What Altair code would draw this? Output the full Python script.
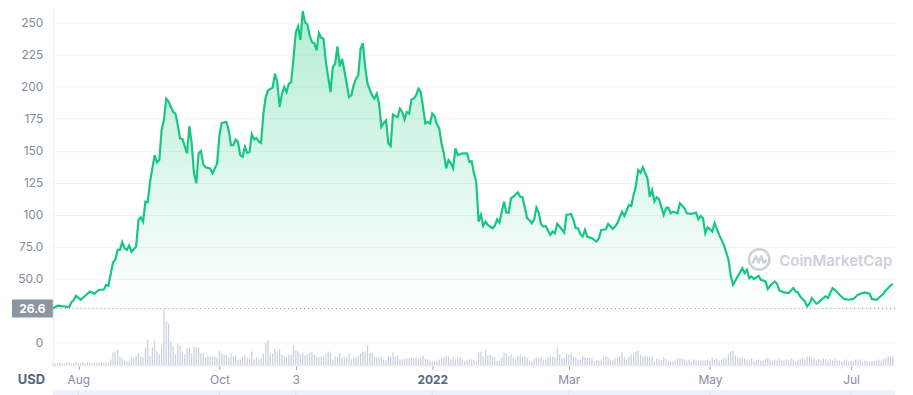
import altair as alt
import pandas as pd

# ---------------- data ----------------
start_date = "2021-07-21"
start_price = 26.6

# price points: day offset from start_date, price in USD
price_days = [
    0, 2, 7, 8, 9, 10, 12, 14, 16, 18, 20, 22, 23, 24, 26, 27, 28, 29, 30, 31,
    32, 33, 34, 36, 37, 38, 39, 40, 41, 42, 44, 45, 46, 47, 48, 49, 50, 52, 53, 54,
    55, 56, 58, 59, 60, 61, 62, 63, 64, 65, 66, 68, 69, 71, 72, 73, 75, 76, 77, 78,
    79, 80, 81, 82, 83, 84, 85, 86, 87, 88, 89, 90, 91, 92, 93, 95, 96, 97, 98, 99,
    100, 101, 102, 103, 104, 105, 106, 107, 108, 109, 110, 111, 112, 113, 114, 115, 116, 117, 118, 120,
    121, 122, 123, 124, 125, 126, 127, 128, 129, 130, 131, 132, 133, 134, 135, 136, 137, 138, 139, 140,
    141, 142, 143, 144, 145, 146, 147, 148, 149, 150, 151, 152, 153, 154, 155, 156, 157, 158, 159, 160,
    161, 162, 163, 164, 165, 166, 167, 168, 169, 170, 171, 172, 173, 174, 175, 177, 179, 180, 181, 182,
    183, 184, 185, 186, 187, 188, 190, 191, 192, 193, 195, 196, 197, 198, 199, 201, 202, 203, 205, 206,
    207, 208, 209, 210, 211, 212, 213, 215, 216, 217, 218, 219, 221, 222, 224, 225, 226, 227, 228, 229,
    230, 231, 233, 235, 236, 237, 239, 240, 242, 243, 244, 246, 247, 249, 250, 251, 252, 253, 254, 255,
    257, 258, 259, 260, 261, 262, 264, 265, 266, 267, 268, 270, 271, 273, 274, 276, 278, 279, 280, 281,
    282, 283, 285, 286, 288, 289, 290, 292, 293, 294, 296, 298, 299, 300, 301, 302, 303, 305, 306, 308,
    309, 310, 312, 313, 314, 316, 318, 320, 321, 322, 323, 325, 326, 327, 328, 330, 331, 333, 334, 335,
    337, 338, 340, 342, 344, 346, 348, 349, 351, 353, 354, 356, 358, 359, 360, 362, 363,
]
price_values = [
    26.6, 28.8, 27.8, 31.4, 33.0, 36.6, 33.5, 36.6, 39.8, 38.2, 41.3, 41.3, 45.0, 44.4, 62.6, 64.7, 72.5, 72.5, 78.5, 73.8,
    72.5, 75.9, 70.9, 75.1, 95.9, 98.0, 94.6, 110.2, 109.7, 125.7, 146.6, 140.9, 142.7, 166.0, 173.8, 190.7, 188.5, 180.3, 179.0, 169.9,
    159.6, 159.0, 147.9, 169.2, 155.7, 132.3, 124.5, 148.3, 149.9, 139.5, 137.0, 136.2, 132.3, 140.1, 162.1, 171.7, 172.5, 166.0, 154.3, 154.3,
    158.8, 156.9, 146.6, 145.2, 153.0, 148.3, 149.1, 162.9, 158.8, 160.0, 157.0, 156.1, 179.0, 192.0, 197.2, 199.3, 210.2, 203.7, 184.2, 194.6,
    199.8, 195.9, 202.4, 203.7, 221.9, 242.7, 247.1, 236.7, 259.1, 250.5, 248.7, 240.1, 234.9, 234.1, 228.4, 241.9, 238.3, 237.5, 219.3, 195.9,
    215.4, 218.0, 231.5, 215.9, 221.9, 212.8, 202.4, 192.0, 193.3, 201.1, 206.3, 208.9, 229.7, 234.1, 215.4, 202.4, 197.7, 193.3, 190.7, 194.6,
    186.8, 168.6, 171.7, 173.8, 155.7, 153.8, 178.3, 177.2, 176.4, 182.9, 180.3, 174.4, 180.3, 179.0, 190.0, 190.7, 193.3, 198.5, 195.9, 184.2,
    171.3, 172.5, 171.3, 179.0, 177.0, 170.7, 167.4, 155.7, 147.9, 136.2, 142.7, 140.1, 136.2, 151.8, 146.6, 147.9, 147.9, 141.3, 141.9, 132.3,
    125.7, 94.6, 99.8, 91.2, 94.6, 92.0, 89.4, 91.2, 96.4, 93.8, 110.2, 101.6, 101.6, 112.8, 114.0, 117.5, 114.0, 113.6, 97.2, 95.9,
    93.3, 95.9, 105.5, 101.6, 92.5, 90.7, 91.2, 84.2, 86.8, 85.5, 92.8, 90.7, 86.0, 99.8, 100.6, 95.9, 89.4, 89.4, 84.7, 82.9,
    88.1, 82.9, 81.6, 79.0, 81.6, 88.1, 88.6, 92.8, 88.9, 90.7, 93.3, 102.4, 99.0, 107.6, 106.8, 115.4, 122.4, 134.9, 132.8, 137.0,
    128.4, 114.0, 119.3, 110.2, 113.6, 112.0, 99.8, 105.0, 105.5, 101.1, 102.4, 101.1, 108.9, 105.0, 101.1, 100.6, 101.6, 96.4, 99.0, 97.2,
    85.5, 90.2, 86.8, 93.3, 84.2, 80.3, 76.4, 65.0, 52.0, 45.2, 51.7, 58.2, 54.3, 56.9, 50.4, 51.7, 49.6, 52.2, 49.1, 47.8,
    41.9, 44.4, 47.8, 46.0, 40.8, 39.2, 38.7, 42.6, 40.0, 39.2, 36.1, 32.2, 28.3, 30.4, 34.8, 30.4, 31.4, 34.8, 36.1, 34.8,
    42.6, 41.3, 37.4, 34.1, 33.5, 34.1, 37.4, 38.2, 39.2, 38.2, 34.1, 33.5, 36.6, 38.2, 40.8, 44.4, 46.0,
]

# daily trading volume (relative units), one value per day from start_date
volume_values = [
    2, 2, 2, 3, 2, 2, 3, 3, 2, 2, 3, 2, 2, 3, 2, 3, 3, 2, 2, 3,
    3, 3, 2, 3, 3, 6, 13, 14, 16, 9, 7, 5, 4, 5, 8, 8, 10, 12, 9, 8,
    18, 26, 10, 18, 25, 14, 11, 20, 56, 44, 42, 24, 19, 11, 22, 20, 14, 11, 17, 18,
    12, 19, 18, 18, 12, 13, 8, 10, 9, 9, 9, 8, 15, 12, 11, 11, 8, 12, 9, 10,
    6, 6, 8, 10, 8, 7, 14, 6, 8, 6, 7, 12, 23, 25, 12, 12, 17, 14, 16, 11,
    9, 8, 11, 11, 20, 15, 14, 11, 13, 10, 11, 13, 14, 11, 9, 8, 9, 10, 12, 14,
    13, 6, 9, 8, 12, 8, 8, 8, 12, 6, 8, 8, 10, 12, 14, 14, 20, 12, 13, 9,
    8, 8, 8, 6, 5, 9, 9, 13, 9, 10, 6, 6, 7, 7, 7, 8, 7, 8, 7, 8,
    10, 7, 6, 5, 4, 4, 5, 6, 8, 8, 10, 9, 6, 8, 6, 8, 8, 6, 4, 5,
    6, 6, 6, 4, 13, 14, 9, 16, 10, 11, 9, 8, 5, 5, 8, 13, 12, 9, 11, 8,
    6, 9, 11, 8, 9, 8, 5, 4, 7, 8, 8, 8, 6, 6, 8, 10, 9, 8, 18, 11,
    7, 7, 12, 11, 13, 8, 8, 6, 6, 9, 8, 8, 8, 7, 4, 5, 5, 6, 9, 9,
    8, 6, 5, 7, 8, 9, 13, 8, 6, 9, 11, 12, 14, 15, 11, 9, 10, 9, 8, 9,
    4, 7, 6, 5, 8, 7, 5, 4, 4, 5, 7, 7, 7, 6, 5, 6, 4, 6, 5, 5,
    5, 5, 5, 6, 5, 8, 6, 7, 5, 6, 8, 7, 11, 14, 15, 10, 8, 8, 7, 7,
    6, 5, 7, 4, 5, 6, 5, 5, 7, 8, 6, 5, 6, 5, 7, 5, 5, 6, 5, 7,
    6, 4, 5, 6, 8, 6, 9, 9, 7, 7, 5, 7, 5, 7, 6, 5, 7, 5, 7, 5,
    5, 4, 5, 6, 4, 5, 4, 6, 5, 6, 4, 5, 4, 4, 4, 5, 5, 6, 5, 7,
    7, 9, 9, 9,
]

x_tick_dates = ["2021-08-01", "2021-10-01", "2021-11-03", "2022-01-01",
                "2022-03-01", "2022-05-01", "2022-07-01"]
y_tick_values = [0, 50, 75, 100, 125, 150, 175, 200, 225, 250]

watermark_text = "CoinMarketCap"
watermark_logo_date = "2022-05-22T07:00:00"
watermark_logo_price = 65.0
watermark_text_date = "2022-05-31T00:00:00"
watermark_text_price = 63.5

# ---------------- tables ----------------
base = pd.Timestamp(start_date)
price_df = pd.DataFrame({
    "date": base + pd.to_timedelta(price_days, unit="D"),
    "price": price_values,
})
vol_df = pd.DataFrame({
    "date": base + pd.to_timedelta(list(range(len(volume_values))), unit="D"),
    "volume": volume_values,
})
label_df = pd.DataFrame({"price": [start_price],
                         "top": [start_price + 7], "bottom": [start_price - 7]})
logo_df = pd.DataFrame({"date": [pd.Timestamp(watermark_logo_date)],
                        "price": [watermark_logo_price]})
wm_df = pd.DataFrame({"date": [pd.Timestamp(watermark_text_date)],
                      "price": [watermark_text_price], "t": [watermark_text]})
nav_df = pd.DataFrame({"start": [price_df["date"].min()], "end": [pd.Timestamp("2022-07-20")]})
nav_sep_df = pd.DataFrame({"date": pd.to_datetime(x_tick_dates)})


def dt(s):
    t = pd.Timestamp(s)
    return alt.DateTime(year=t.year, month=t.month, date=t.day)


x_scale = alt.Scale(domain=[dt("2021-07-21"), dt("2022-07-20")], padding=0)
y_scale = alt.Scale(domain=[-17.9, 261.1], nice=False, zero=False)

GREEN = "#16c784"
FONT = "Inter"

x_axis = alt.Axis(
    values=[dt(d) for d in x_tick_dates],
    labelExpr="month(datum.value) == 0 ? timeFormat(datum.value, '%Y') : "
              "(month(datum.value) == 10 ? timeFormat(datum.value, '%-d') : timeFormat(datum.value, '%b'))",
    labelFont=FONT, labelFontSize=12,
    labelColor={"condition": {"test": "month(datum.value) == 0", "value": "#58667e"}, "value": "#858ca2"},
    labelFontWeight={"condition": {"test": "month(datum.value) == 0", "value": "bold"}, "value": "normal"},
    labelPadding=5, tickSize=4, tickColor="#9aa1b4", domainColor="#eceff4",
    grid=False, title=None,
)
y_axis = alt.Axis(
    values=y_tick_values,
    labelExpr="datum.value > 0 && datum.value < 100 ? format(datum.value, '.1f') : format(datum.value, 'd')",
    labelFont=FONT, labelFontSize=12, labelColor="#808a9d", labelPadding=10,
    ticks=False, grid=True, gridColor="#eff2f5", domainColor="#eceff4",
    title="USD", titleAngle=0, titleX=-22, titleY=372, titleAlign="center",
    titleBaseline="middle", titleFont=FONT, titleFontSize=13,
    titleFontWeight="bold", titleColor="#58667e",
)


def X(field="date:T"):
    return alt.X(field, scale=x_scale, axis=x_axis)


def Y(field="price:Q"):
    return alt.Y(field, scale=y_scale, axis=y_axis)


gradient = alt.Gradient(
    gradient="linear",
    stops=[alt.GradientStop(color="rgba(22,199,132,0.32)", offset=0),
           alt.GradientStop(color="rgba(22,199,132,0.0)", offset=1)],
    x1=1, x2=1, y1=0, y2=1,
)

area = alt.Chart(price_df).mark_area(color=gradient).encode(
    x=X(), y=Y(), y2=alt.Y2(datum=start_price),
)

line = alt.Chart(price_df).mark_line(color=GREEN, strokeWidth=2.2).encode(x=X(), y=Y())

rule = alt.Chart(label_df).mark_rule(color="#8a8f99", strokeDash=[1, 3], strokeWidth=1).encode(y=Y())

label_box = alt.Chart(label_df).mark_rect(color="#8e95a2").encode(
    x=alt.value(-41), x2=alt.value(0), y=Y("top:Q"), y2="bottom:Q",
)
label_text = alt.Chart(label_df).mark_text(
    color="white", font=FONT, fontSize=12, fontWeight="bold", align="center", baseline="middle"
).encode(
    x=alt.value(-20.5), y=Y(), text=alt.Text("price:Q", format=".1f"),
)

WM = "#cbd0da"
logo_circle = alt.Chart(logo_df).mark_point(
    shape="circle", filled=False, size=420, strokeWidth=2.6, color=WM, opacity=1
).encode(x=X(), y=Y())
logo_wave = alt.Chart(logo_df).mark_point(
    shape="M -0.62 0.3 L -0.32 -0.3 L -0.05 0.3 L 0.2 -0.3 L 0.38 0.22 Q 0.5 0.45 0.66 0.12",
    filled=False, size=420, strokeWidth=2.6, color=WM, opacity=1, strokeJoin="round", strokeCap="round",
).encode(x=X(), y=Y())
wm_text = alt.Chart(wm_df).mark_text(
    color=WM, font=FONT, fontSize=15, fontWeight=600, align="left", baseline="middle"
).encode(x=X(), y=Y(), text="t:N")

# navigator strip under the axis (only its top edge shows in the window)
nav = alt.Chart(nav_df).mark_rect(color="#edf1fb").encode(
    x=alt.X("start:T", scale=x_scale, axis=x_axis), x2="end:T",
    y=alt.value(383), y2=alt.value(400),
)
nav_sep = alt.Chart(nav_sep_df).mark_rule(color="#dce2f1", strokeWidth=1).encode(
    x=alt.X("date:T", scale=x_scale, axis=x_axis),
    y=alt.value(383), y2=alt.value(400),
)

volume = alt.Chart(vol_df).mark_bar(color="#c8cede", width=1.2).encode(
    x=X(),
    y=alt.Y("volume:Q", scale=alt.Scale(domain=[0, 358], nice=False), axis=None),
)

price_layer = alt.layer(area, logo_circle, logo_wave, wm_text, line, rule, label_box, label_text)

chart = alt.layer(nav, nav_sep, volume, price_layer).resolve_scale(y="independent").properties(
    width=845, height=358,
    padding={"left": 45, "top": 0, "right": 10, "bottom": 29},
    autosize=alt.AutoSizeParams(type="none"),
    background="white",
).configure_view(stroke=None)

chart.save("out.html", embed_options={"renderer": "svg", "actions": False})
